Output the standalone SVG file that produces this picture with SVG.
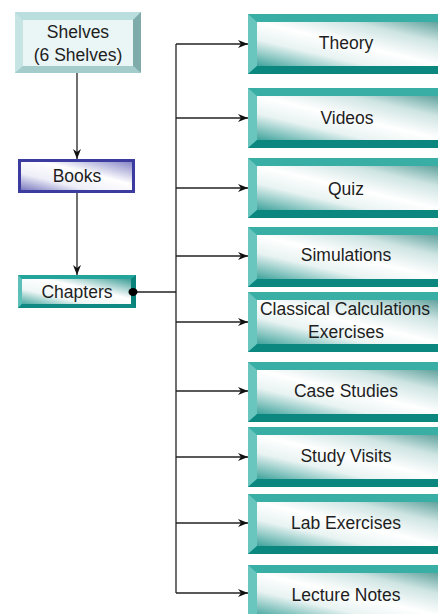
<svg xmlns="http://www.w3.org/2000/svg" xmlns:xlink="http://www.w3.org/1999/xlink" width="438" height="614" viewBox="0 0 438 614">
<style>
text{font-family:"Liberation Sans",Arial,sans-serif;font-size:17.5px;fill:#1e1e1e;text-anchor:middle}
.c{stroke:#222;stroke-width:1.3;fill:none}
.ca{stroke:#222;stroke-width:1.3;fill:none;marker-end:url(#ah)}
</style>
<defs>
<marker id="ah" viewBox="0 0 10 8" refX="10" refY="4" markerWidth="10" markerHeight="8" markerUnits="userSpaceOnUse" orient="auto">
<path d="M0,0 L10,4 L0,8 L3,4 z" fill="#111"/>
</marker>
<linearGradient id="tf" x1="0" y1="1" x2="1" y2="0">
<stop offset="0" stop-color="#3fa39c"/>
<stop offset="0.3" stop-color="#e8f3f2"/>
<stop offset="0.5" stop-color="#ffffff"/>
<stop offset="0.75" stop-color="#cfe5e3"/>
<stop offset="1" stop-color="#5a9e99"/>
</linearGradient>
<linearGradient id="bf" x1="0" y1="1" x2="1" y2="0">
<stop offset="0" stop-color="#7a7ac0"/>
<stop offset="0.3" stop-color="#eeeef8"/>
<stop offset="0.6" stop-color="#ffffff"/>
<stop offset="1" stop-color="#8888c8"/>
</linearGradient>
<linearGradient id="cf" x1="0" y1="1" x2="1" y2="0">
<stop offset="0" stop-color="#4aa9a2"/>
<stop offset="0.3" stop-color="#eef6f5"/>
<stop offset="0.6" stop-color="#ffffff"/>
<stop offset="1" stop-color="#3e9e97"/>
</linearGradient>
<g id="tb">
<rect x="0" y="0" width="196" height="60" fill="#2ea69d"/>
<polygon points="0,0 196,0 196,8 9,8" fill="#38aea5"/>
<polygon points="0,0 9,8 9,52 0,60" fill="#68c6be"/>
<polygon points="0,60 9,52 196,52 196,60" fill="#0b8780"/>
<rect x="9" y="8" width="187" height="44" fill="url(#tf)"/>
</g>
</defs>

<g id="connectors">
<path class="ca" d="M77,73 V159"/>
<path class="ca" d="M77,193 V275"/>
<path class="c" d="M136,292 H176"/>
<path class="c" d="M176,44 V593"/>
<path class="ca" d="M176,44 H248"/>
<path class="ca" d="M176,118 H248"/>
<path class="ca" d="M176,188 H248"/>
<path class="ca" d="M176,256 H248"/>
<path class="ca" d="M176,322 H248"/>
<path class="ca" d="M176,391 H248"/>
<path class="ca" d="M176,457 H248"/>
<path class="ca" d="M176,523 H248"/>
<path class="ca" d="M176,593 H248"/>
</g>

<g id="shelves">
<rect x="15" y="12" width="126" height="61" fill="#a9d3d3"/>
<polygon points="15,12 141,12 133,20 23,20" fill="#b9dedd"/>
<polygon points="15,12 23,20 23,66 15,73" fill="#c6e4e3"/>
<polygon points="141,12 133,20 133,66 141,73" fill="#7fabab"/>
<polygon points="15,73 23,66 133,66 141,73" fill="#a3cccb"/>
<rect x="23" y="20" width="110" height="46" fill="#eaf5f5"/>
<text x="78" y="38">Shelves</text>
<text x="78" y="61">(6 Shelves)</text>
</g>

<g id="books">
<rect x="18" y="159" width="117" height="34" fill="#3b3ba0"/>
<rect x="21" y="162" width="111" height="28" fill="url(#bf)"/>
<text x="77" y="182">Books</text>
</g>

<g id="chapters">
<rect x="18" y="275" width="118" height="33" fill="#22a49b"/>
<polygon points="18,275 22,279 22,304 18,308" fill="#5cc0b8"/>
<polygon points="136,275 131,279 131,304 136,308" fill="#0a837b"/>
<polygon points="18,308 22,304 131,304 136,308" fill="#0e8a82"/>
<rect x="22" y="279" width="109" height="25" fill="url(#cf)"/>
<text x="77" y="298">Chapters</text>
<ellipse cx="133" cy="292" rx="4.5" ry="4" fill="#000"/>
</g>

<g id="theory"><use xlink:href="#tb" x="248" y="14"/><text x="346" y="49">Theory</text></g>
<g id="videos"><use xlink:href="#tb" x="248" y="88"/><text x="347" y="124">Videos</text></g>
<g id="quiz"><use xlink:href="#tb" x="248" y="158"/><text x="346" y="195">Quiz</text></g>
<g id="simulations"><use xlink:href="#tb" x="248" y="227"/><text x="346" y="261">Simulations</text></g>
<g id="classical"><use xlink:href="#tb" x="248" y="292"/><text x="345" y="315">Classical Calculations</text><text x="346" y="338">Exercises</text></g>
<g id="case-studies"><use xlink:href="#tb" x="248" y="362"/><text x="346" y="397">Case Studies</text></g>
<g id="study-visits"><use xlink:href="#tb" x="248" y="427"/><text x="346" y="462">Study Visits</text></g>
<g id="lab-exercises"><use xlink:href="#tb" x="248" y="494"/><text x="346" y="529">Lab Exercises</text></g>
<g id="lecture-notes"><use xlink:href="#tb" x="248" y="565"/><text x="346" y="601">Lecture Notes</text></g>
</svg>
